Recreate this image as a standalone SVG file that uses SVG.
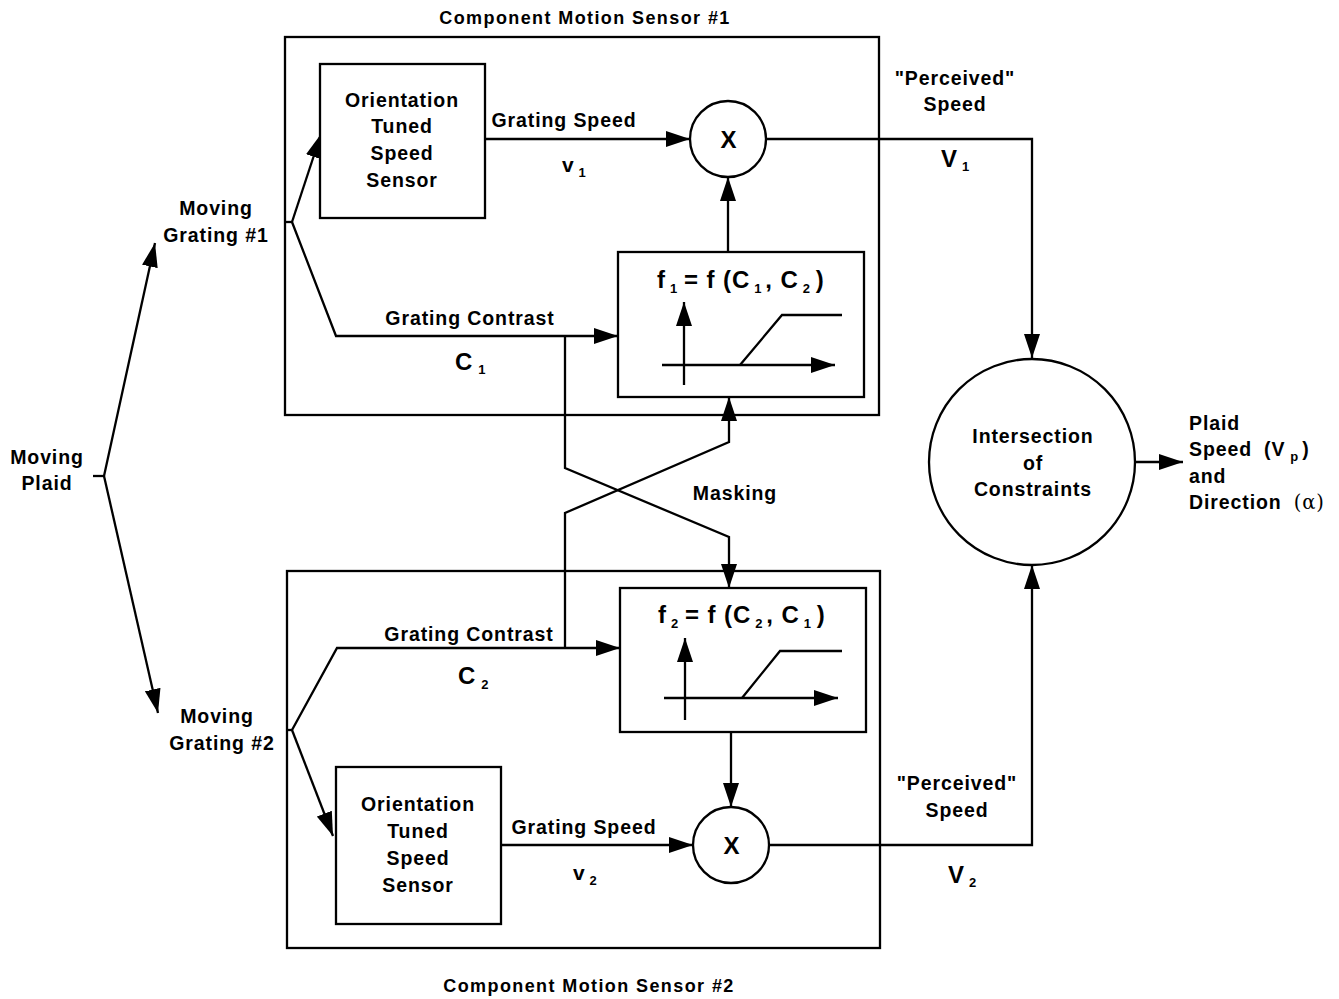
<svg xmlns="http://www.w3.org/2000/svg" width="1339" height="999" viewBox="0 0 1339 999">
<style>
text{font-family:"Liberation Sans",Arial,sans-serif;font-weight:bold;font-size:19.5px;fill:#000;letter-spacing:0.9px}
.c{text-anchor:middle}
.sub{font-size:13px}
.ln{fill:none;stroke:#000;stroke-width:2.3}
.bx{fill:#fff;stroke:#000;stroke-width:2.3}
.big{font-size:24px}
.gr{font-weight:normal;font-family:"DejaVu Serif",serif}
.ttl{font-size:18px;letter-spacing:1.4px}
</style>
<defs>
<marker id="ah" viewBox="0 0 24 16" refX="24" refY="8" markerWidth="24" markerHeight="16" markerUnits="userSpaceOnUse" orient="auto"><path d="M0,0 L24,8 L0,16 z" fill="#000"/></marker>
</defs>
<rect width="1339" height="999" fill="#fff"/>

<g id="sensor1">
<rect class="bx" x="285" y="37" width="594" height="378"/>
<text class="c ttl" x="585" y="24">Component Motion Sensor #1</text>
</g>
<g id="sensor2">
<rect class="bx" x="287" y="571" width="593" height="377"/>
<text class="c ttl" x="589" y="992">Component Motion Sensor #2</text>
</g>

<g id="connectors">
<path class="ln" d="M93,476 L104,476"/>
<path class="ln" d="M104,476 L155,243" marker-end="url(#ah)"/>
<path class="ln" d="M104,476 L158,713" marker-end="url(#ah)"/>
<path class="ln" d="M285,222 L292,222"/>
<path class="ln" d="M292,222 L321,134" marker-end="url(#ah)"/>
<path class="ln" d="M292,222 L336,336 L618,336" marker-end="url(#ah)"/>
<path class="ln" d="M485,139 L690,139" marker-end="url(#ah)"/>
<path class="ln" d="M728,252 L728,177" marker-end="url(#ah)"/>
<path class="ln" d="M766,139 L1032,139 L1032,358" marker-end="url(#ah)"/>
<path class="ln" d="M565,336 L565,468 L729,537 L729,588" marker-end="url(#ah)"/>
<path class="ln" d="M565,648 L565,513 L729,442 L729,397" marker-end="url(#ah)"/>
<path class="ln" d="M286,730 L292,730"/>
<path class="ln" d="M292,730 L337,648 L620,648" marker-end="url(#ah)"/>
<path class="ln" d="M292,730 L333,836" marker-end="url(#ah)"/>
<path class="ln" d="M501,845 L693,845" marker-end="url(#ah)"/>
<path class="ln" d="M731,732 L731,807" marker-end="url(#ah)"/>
<path class="ln" d="M769,845 L1032,845 L1032,565" marker-end="url(#ah)"/>
<path class="ln" d="M1135,462 L1183,462" marker-end="url(#ah)"/>
</g>

<g id="plaid">
<text class="c" x="47" y="464">Moving</text>
<text class="c" x="47" y="490">Plaid</text>
</g>
<g id="grating1">
<text class="c" x="216" y="215">Moving</text>
<text class="c" x="216" y="242">Grating #1</text>
</g>
<g id="grating2">
<text class="c" x="217" y="723">Moving</text>
<text class="c" x="222" y="750">Grating #2</text>
</g>

<g id="otss1">
<rect class="bx" x="320" y="64" width="165" height="154"/>
<text class="c" x="402" y="107">Orientation</text>
<text class="c" x="402" y="133">Tuned</text>
<text class="c" x="402" y="160">Speed</text>
<text class="c" x="402" y="187">Sensor</text>
</g>
<g id="otss2">
<rect class="bx" x="336" y="767" width="165" height="157"/>
<text class="c" x="418" y="811">Orientation</text>
<text class="c" x="418" y="838">Tuned</text>
<text class="c" x="418" y="865">Speed</text>
<text class="c" x="418" y="892">Sensor</text>
</g>

<g id="labels">
<text class="c" x="564" y="127">Grating Speed</text>
<text x="562" y="172" style="font-size:21px">v<tspan class="sub" dx="4" dy="5">1</tspan></text>
<text class="c" x="470" y="325">Grating Contrast</text>
<text x="455" y="370" class="big">C<tspan class="sub" dx="5" dy="4">1</tspan></text>
<text class="c" x="735" y="500">Masking</text>
<text class="c" x="469" y="641">Grating Contrast</text>
<text x="458" y="684" class="big">C<tspan class="sub" dx="5" dy="5">2</tspan></text>
<text class="c" x="584" y="834">Grating Speed</text>
<text x="573" y="880" style="font-size:21px">v<tspan class="sub" dx="4" dy="5">2</tspan></text>
<text class="c" x="955" y="85">"Perceived"</text>
<text class="c" x="955" y="111">Speed</text>
<text x="941" y="167" class="big">V<tspan class="sub" dx="4" dy="4">1</tspan></text>
<text class="c" x="957" y="790">"Perceived"</text>
<text class="c" x="957" y="817">Speed</text>
<text x="948" y="883" class="big">V<tspan class="sub" dx="4" dy="4">2</tspan></text>
</g>

<g id="mult1">
<circle class="bx" cx="728" cy="139" r="38"/>
<text class="c big" x="729" y="148">X</text>
</g>
<g id="mult2">
<circle class="bx" cx="731" cy="845" r="38"/>
<text class="c big" x="732" y="854">X</text>
</g>

<g id="f1">
<rect class="bx" x="618" y="252" width="246" height="145"/>
<text x="657" y="288" class="big">f<tspan class="sub" dx="4" dy="5">1</tspan><tspan dx="6" dy="-5">= f (C</tspan><tspan class="sub" dx="4" dy="5">1</tspan><tspan dx="3" dy="-5">, C</tspan><tspan class="sub" dx="4" dy="5">2</tspan><tspan dx="5" dy="-5">)</tspan></text>
<path class="ln" d="M684,385 L684,302" marker-end="url(#ah)"/>
<path class="ln" d="M662,365 L835,365" marker-end="url(#ah)"/>
<path class="ln" d="M740,365 L782,315 L842,315"/>
</g>
<g id="f2">
<rect class="bx" x="620" y="588" width="246" height="144"/>
<text x="658" y="623" class="big">f<tspan class="sub" dx="4" dy="5">2</tspan><tspan dx="6" dy="-5">= f (C</tspan><tspan class="sub" dx="4" dy="5">2</tspan><tspan dx="3" dy="-5">, C</tspan><tspan class="sub" dx="4" dy="5">1</tspan><tspan dx="5" dy="-5">)</tspan></text>
<path class="ln" d="M685,720 L685,638" marker-end="url(#ah)"/>
<path class="ln" d="M664,698 L838,698" marker-end="url(#ah)"/>
<path class="ln" d="M742,698 L780,651 L842,651"/>
</g>

<g id="ioc">
<circle class="bx" cx="1032" cy="462" r="103"/>
<text class="c" x="1033" y="443">Intersection</text>
<text class="c" x="1033" y="470">of</text>
<text class="c" x="1033" y="496">Constraints</text>
</g>
<g id="output">
<text x="1189" y="430">Plaid</text>
<text x="1189" y="456">Speed<tspan dx="12">(V</tspan><tspan class="sub" dx="5" dy="5">p</tspan><tspan dx="3" dy="-5">)</tspan></text>
<text x="1189" y="483">and</text>
<text x="1189" y="509">Direction<tspan class="gr" dx="12">(α)</tspan></text>
</g>
</svg>
